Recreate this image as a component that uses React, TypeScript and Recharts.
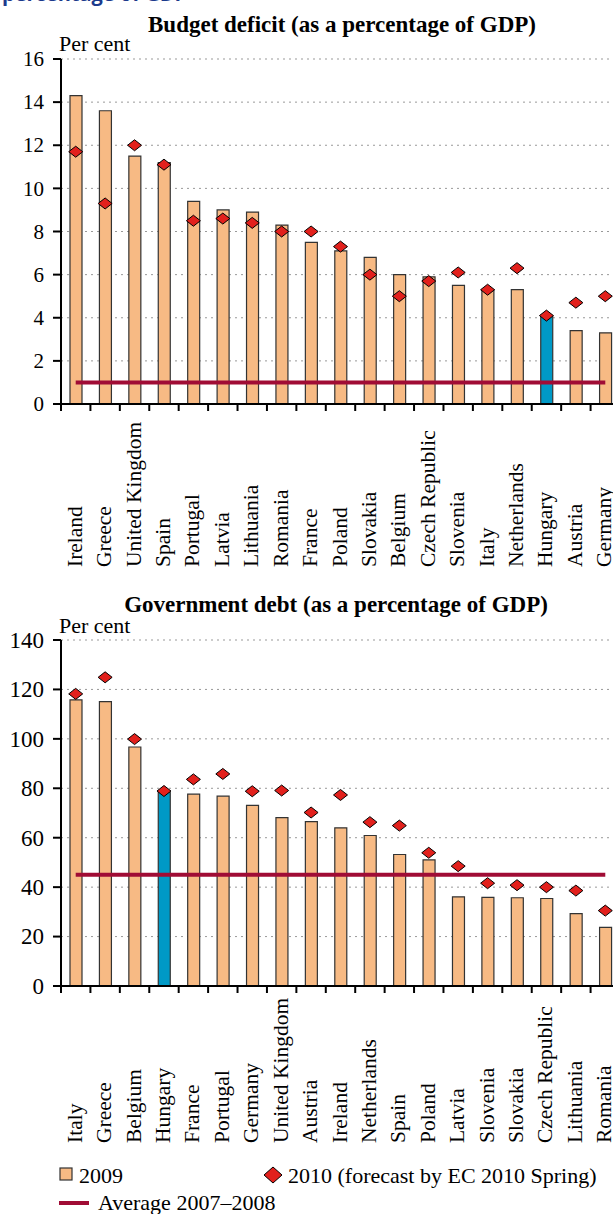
import React from "react";
import { Bar, CartesianGrid, Cell, ComposedChart, Line, Scatter, XAxis, YAxis } from "recharts";

// Budget deficit, % of GDP
const deficitCountries = [
  "Ireland", "Greece", "United Kingdom", "Spain", "Portugal", "Latvia", "Lithuania",
  "Romania", "France", "Poland", "Slovakia", "Belgium", "Czech Republic", "Slovenia",
  "Italy", "Netherlands", "Hungary", "Austria", "Germany",
];
const deficit2009 = [14.3, 13.6, 11.5, 11.2, 9.4, 9.0, 8.9, 8.3, 7.5, 7.1, 6.8, 6.0, 5.9, 5.5, 5.3, 5.3, 4.1, 3.4, 3.3];
const deficit2010 = [11.7, 9.3, 12.0, 11.1, 8.5, 8.6, 8.4, 8.0, 8.0, 7.3, 6.0, 5.0, 5.7, 6.1, 5.3, 6.3, 4.1, 4.7, 5.0];
const deficitAverage = 1.0;
const deficitTicks = [0, 2, 4, 6, 8, 10, 12, 14, 16];

// Government debt, % of GDP
const debtCountries = [
  "Italy", "Greece", "Belgium", "Hungary", "France", "Portugal", "Germany",
  "United Kingdom", "Austria", "Ireland", "Netherlands", "Spain", "Poland", "Latvia",
  "Slovenia", "Slovakia", "Czech Republic", "Lithuania", "Romania",
];
const debt2009 = [115.8, 115.1, 96.7, 78.3, 77.6, 76.8, 73.1, 68.1, 66.5, 64.0, 60.9, 53.2, 51.0, 36.1, 35.9, 35.7, 35.4, 29.3, 23.7];
const debt2010 = [118.2, 124.9, 99.9, 78.9, 83.6, 85.8, 78.8, 79.1, 70.2, 77.3, 66.3, 64.9, 53.9, 48.5, 41.6, 40.8, 40.0, 38.6, 30.5];
const debtAverage = 45;
const debtTicks = [0, 20, 40, 60, 80, 100, 120, 140];

const highlight = "Hungary";

const FONT = "'Liberation Serif', 'Times New Roman', serif";
const BAR = "#f7ba84";
const BLUE = "#0099c6";
const AVG = "#a00c35";
const DIAMOND = "#e2201c";

const CHART_W = 640;
const PLOT_LEFT = 61;
const PLOT_RIGHT = 620;
const BAND = (PLOT_RIGHT - PLOT_LEFT) / 19;

function buildRows(names: string[], v2009: number[], v2010: number[], avg: number) {
  return names.map((name, i) => ({ name, v2009: v2009[i], v2010: v2010[i], avg }));
}

function Diamond(props: any) {
  const { cx, cy } = props;
  if (cx == null || cy == null) return null;
  const w = 7;
  const h = 5.5;
  return (
    <polygon
      points={`${cx - w},${cy} ${cx},${cy - h} ${cx + w},${cy} ${cx},${cy + h}`}
      fill={DIAMOND}
      stroke="#000"
      strokeWidth={1}
    />
  );
}

function CategoryTick(props: any) {
  const { x, y, payload, drop } = props;
  const bx = x - BAND / 2;
  const tx = x + 6;
  const ty = y + drop;
  return (
    <g>
      <line x1={bx} y1={y} x2={bx} y2={y + 7} stroke="#000" strokeWidth={2} />
      <text
        x={tx}
        y={ty}
        transform={`rotate(-90 ${tx} ${ty})`}
        textAnchor="start"
        fontSize={21.5}
        fontFamily={FONT}
        fill="#000"
      >
        {payload.value}
      </text>
    </g>
  );
}

function ValueTick(props: any) {
  const { x, y, payload, size } = props;
  return (
    <text x={x} y={y} dy={size * 0.34} textAnchor="end" fontSize={size} fontFamily={FONT} fill="#000">
      {payload.value}
    </text>
  );
}

function Panel({
  rows, ticks, max, top, height, plotTop, plotBottom, drop, tickFont,
}: {
  rows: any[]; ticks: number[]; max: number; top: number; height: number;
  plotTop: number; plotBottom: number; drop: number; tickFont: number;
}) {
  return (
    <div style={{ position: "absolute", left: 0, top }}>
      <ComposedChart
        width={CHART_W}
        height={height}
        data={rows}
        margin={{ top: plotTop, right: CHART_W - PLOT_RIGHT, left: 0, bottom: 0 }}
      >
        <CartesianGrid vertical={false} stroke="#999" strokeDasharray="2 4" />
        <XAxis
          dataKey="name"
          interval={0}
          height={height - plotBottom}
          tickLine={false}
          tickSize={0}
          tickMargin={0}
          axisLine={{ stroke: "#000", strokeWidth: 2 }}
          tick={(p: any) => <CategoryTick {...p} drop={drop} />}
        />
        <YAxis
          width={PLOT_LEFT}
          domain={[0, max]}
          ticks={ticks}
          interval={0}
          tickSize={8}
          tickMargin={9}
          axisLine={{ stroke: "#000", strokeWidth: 2 }}
          tickLine={{ stroke: "#000", strokeWidth: 2 }}
          tick={(p: any) => <ValueTick {...p} size={tickFont} />}
        />
        <Bar dataKey="v2009" barSize={12} fill={BAR} stroke="#333" strokeWidth={1.2} isAnimationActive={false}>
          {rows.map((r) => (
            <Cell key={r.name} fill={r.name === highlight ? BLUE : BAR} />
          ))}
        </Bar>
        <Line dataKey="avg" stroke={AVG} strokeWidth={4} dot={false} activeDot={false} isAnimationActive={false} />
        <Scatter dataKey="v2010" shape={<Diamond />} isAnimationActive={false} />
      </ComposedChart>
    </div>
  );
}

export default function App() {
  const deficitRows = buildRows(deficitCountries, deficit2009, deficit2010, deficitAverage);
  const debtRows = buildRows(debtCountries, debt2009, debt2010, debtAverage);

  return (
    <div
      style={{
        position: "absolute", left: 0, top: 0, width: 613, height: 1214,
        overflow: "hidden", background: "#fff", fontFamily: FONT,
      }}
    >
      <Panel rows={deficitRows} ticks={deficitTicks} max={16} top={0} height={590}
        plotTop={59} plotBottom={404} drop={163} tickFont={21} />
      <Panel rows={debtRows} ticks={debtTicks} max={140} top={590} height={566}
        plotTop={50} plotBottom={396} drop={157} tickFont={23} />

      <svg width={613} height={1214} style={{ position: "absolute", left: 0, top: 0, pointerEvents: "none" }}>
        <text x={2} y={1} fontSize={20} fontWeight={700} fontFamily="'Open Sans', sans-serif" fill="#1b3a8c">
          percentage of GDP
        </text>
        <text x={342} y={32} textAnchor="middle" fontSize={23} fontWeight={700} fontFamily={FONT}>
          Budget deficit (as a percentage of GDP)
        </text>
        <text x={59} y={51} fontSize={22} fontFamily={FONT}>Per cent</text>

        <text x={336} y={612} textAnchor="middle" fontSize={23} fontWeight={700} fontFamily={FONT}>
          Government debt (as a percentage of GDP)
        </text>
        <text x={59} y={633} fontSize={22} fontFamily={FONT}>Per cent</text>

        <rect x={60} y={1168} width={12} height={12} fill={BAR} stroke="#333" strokeWidth={1.2} />
        <text x={79} y={1183} fontSize={22} fontFamily={FONT}>2009</text>
        <polygon points="264,1175 273,1167 282,1175 273,1183" fill={DIAMOND} stroke="#000" strokeWidth={1} />
        <text x={288} y={1183} fontSize={22} fontFamily={FONT}>2010 (forecast by EC 2010 Spring)</text>
        <line x1={59} y1={1203} x2={89} y2={1203} stroke={AVG} strokeWidth={4} />
        <text x={98} y={1210} fontSize={22} fontFamily={FONT}>Average 2007–2008</text>
      </svg>
    </div>
  );
}
